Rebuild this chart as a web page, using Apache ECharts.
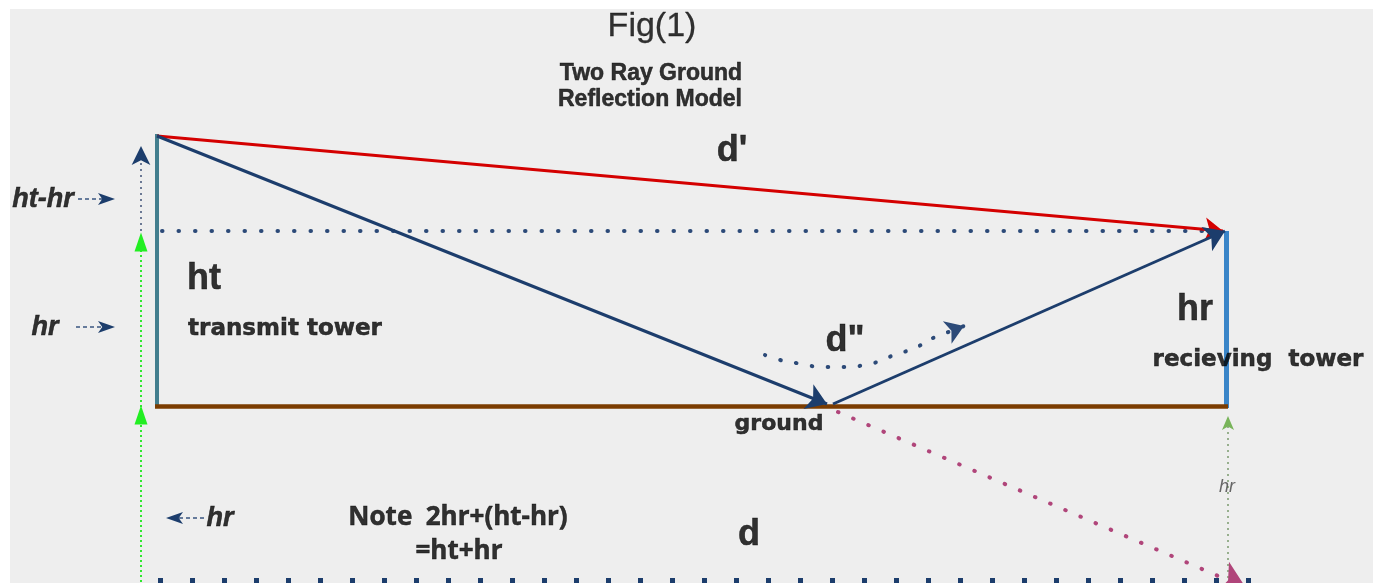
<!DOCTYPE html>
<html><head><meta charset="utf-8">
<script src="https://cdn.jsdelivr.net/npm/echarts@6/dist/echarts.min.js"></script>
<style>html,body{margin:0;padding:0;background:#fff}#c{width:1373px;height:583px}</style>
</head><body><div id="c"></div>
<script>
// ---- diagram geometry (in picture units) ----
const txTower = [[157, 134], [157, 408]];
const rxTower = [[1226, 231], [1226, 408]];
const groundLine = [[155, 406], [1228, 406]];
const directRay = [[157, 136], [1223, 231]];
const incidentRay = [[157, 136], [827, 404]];
const reflectedRay = [[833, 404], [1225, 231]];
const levelLine = [[162, 231], [1212, 231]];
const imageRay = [[838, 412], [1246, 588]];
const dBaseLine = [[158, 581], [1252, 581]];
const leftUpper = [[141, 231], [141, 152]];
const leftGreen = [[141, 250], [141, 583]];
const rightGreen = [[1228, 420], [1228, 583]];
const dCurve = [[765, 355], [780, 360], [796, 363], [811, 366], [827, 367], [843, 367],
                [859, 366], [874, 363], [889, 357], [904, 352], [919, 346], [933, 338]];
const dCurveHead = [[933, 338], [964, 326]];
const noteArrowA = [[78, 199], [108, 199]];
const noteArrowB = [[76, 327], [108, 327]];
const noteArrowC = [[172, 518], [205, 518]];
const upArrowsNavy = [[141, 146]];
const upTrianglesGreen = [[141, 242], [141, 415]];
const upArrowRight = [[1228, 416]];
const rightArrows = [[115, 199], [115, 327]];
const leftArrows = [[166, 518]];

// ---- texts ----
const figLabels = [['Fig(1)', 652, 27]];
const subtitleLabels = [['Two Ray Ground', 651, 74], ['Reflection Model', 650, 100]];
const bigLabels = [["d'", 732, 151], ['d"', 845, 341], ['d', 749, 535], ['ht', 204, 279], ['hr', 1195, 310]];
const italicLabels = [['ht-hr', 43, 200], ['hr', 45, 328], ['hr', 220, 519]];
const towerLabels = [['transmit tower', 285, 329], ['recieving  tower', 1258, 360]];
const groundLabels = [['ground', 779, 424]];
const noteLabels = [['Note  2hr+(ht-hr)', 458, 518], ['=ht+hr', 459, 552]];
const smallLabels = [['hr', 1227, 487]];

const NAVY = '#1c3d6c';

function seg(coords, color, width, type, endSymbol, size, cap, z) {
  return {
    type: 'lines', coordinateSystem: 'cartesian2d', silent: true, animation: false,
    symbol: ['none', endSymbol || 'none'], symbolSize: size || 10,
    lineStyle: { color: color, width: width, type: type || 'solid', cap: cap || 'butt', opacity: 1, curveness: 0 },
    data: [{ coords: coords }], z: z || 2
  };
}
function marks(points, symbol, color, size, rotate, z) {
  return {
    type: 'scatter', silent: true, animation: false, symbol: symbol, symbolSize: size,
    symbolRotate: rotate || 0, itemStyle: { color: color, opacity: 1 }, data: points, z: z || 4
  };
}
function texts(items, font) {
  return {
    type: 'scatter', silent: true, animation: false, symbolSize: 0, z: 6,
    itemStyle: { color: '#000' },
    data: items.map(d => ({ value: [d[1], d[2]], name: d[0] })),
    label: Object.assign({ show: true, position: 'top', distance: 0, align: 'center', verticalAlign: 'middle',
      color: '#000', textBorderColor: '#000', textBorderWidth: 0.5, formatter: p => p.name }, font),
    labelLayout: { hideOverlap: false }
  };
}

const option = {
  backgroundColor: '#ffffff',
  animation: false,
  grid: { left: 10, top: 9, right: 0, bottom: 0, show: true, backgroundColor: '#eeeeee', borderWidth: 0 },
  xAxis: { type: 'value', min: 10, max: 1373, show: false },
  yAxis: { type: 'value', min: 9, max: 583, inverse: true, show: false },
  series: [
    seg(leftGreen, '#2fe82f', 2, [2, 3]),
    seg(leftUpper, '#6a7894', 2, [2, 4]),
    seg(rightGreen, '#7a9a6e', 1.5, [2, 4]),
    seg(dBaseLine, NAVY, 6, [5, 27]),
    seg(levelLine, '#2c4a78', 4, [0.5, 16], 'none', 10, 'round'),
    seg(imageRay, '#b0457a', 4, [0.5, 16], 'arrow', 26, 'round'),
    seg(txTower, '#427e8e', 4),
    seg(rxTower, '#3a85c8', 5),
    seg(groundLine, '#7b3c00', 4.5),
    seg(directRay, '#d40000', 3, 'solid', 'arrow', 18, 'butt', 3),
    seg(incidentRay, NAVY, 3, 'solid', 'arrow', 20, 'butt', 3),
    seg(reflectedRay, NAVY, 3, 'solid', 'arrow', 20, 'butt', 3),
    {
      type: 'line', silent: true, animation: false, smooth: 0.5, showSymbol: false, symbol: 'none',
      lineStyle: { color: '#2c4a78', width: 4, type: [0.5, 15.5], cap: 'round' }, data: dCurve, z: 3
    },
    seg(dCurveHead, '#2c4a78', 4, [0.5, 15.5], 'arrow', 18, 'round', 3),
    seg(noteArrowA, '#3a5580', 1.5, [4, 3]),
    seg(noteArrowB, '#3a5580', 1.5, [4, 3]),
    seg(noteArrowC, '#3a5580', 1.5, [4, 3]),
    marks(upArrowsNavy, 'arrow', NAVY, [14, 19], 0),
    marks(upTrianglesGreen, 'triangle', '#22ee22', [13, 19], 0),
    marks(upArrowRight, 'arrow', '#78b45a', [9, 14], 0),
    marks(rightArrows, 'arrow', NAVY, [9, 17], -90),
    marks(leftArrows, 'arrow', NAVY, [9, 17], 90),
    texts(figLabels, { fontFamily: 'Liberation Sans', fontSize: 34, textBorderWidth: 0.3 }),
    texts(subtitleLabels, { fontFamily: 'Liberation Sans', fontWeight: 'bold', fontSize: 23 }),
    texts(bigLabels, { fontFamily: 'Liberation Sans', fontWeight: 'bold', fontSize: 36 }),
    texts(italicLabels, { fontFamily: 'Liberation Sans', fontWeight: 'bold', fontStyle: 'italic', fontSize: 27 }),
    texts(towerLabels, { fontFamily: "'DejaVu Sans'", fontWeight: 'bold', fontSize: 23 }),
    texts(groundLabels, { fontFamily: "'DejaVu Sans'", fontWeight: 'bold', fontSize: 22 }),
    texts(noteLabels, { fontFamily: "'Open Sans'", fontWeight: 'bold', fontSize: 26 }),
    texts(smallLabels, { fontFamily: "'Liberation Sans Narrow', 'Liberation Sans'", fontStyle: 'italic', fontSize: 18,
      color: '#444', textBorderWidth: 0 })
  ]
};
const chart = echarts.init(document.getElementById('c'));
chart.setOption(option);
</script></body></html>
